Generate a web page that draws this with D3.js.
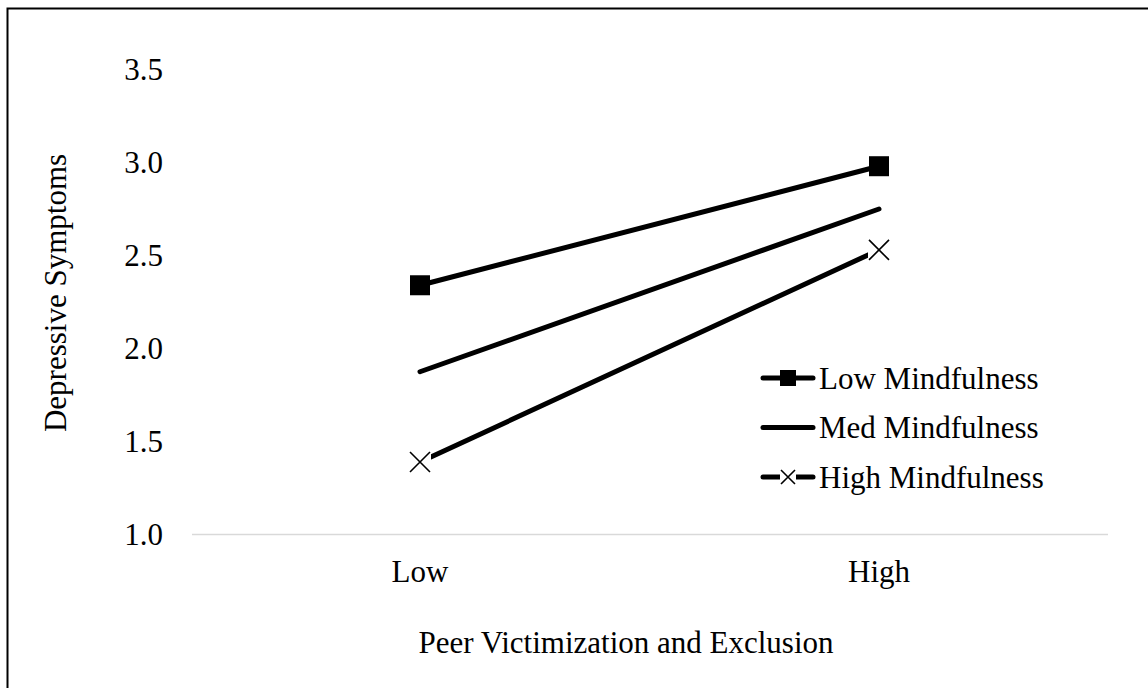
<!DOCTYPE html>
<html>
<head>
<meta charset="utf-8">
<script src="https://cdn.jsdelivr.net/npm/d3@7"></script>
<style>
  body { margin: 0; background: #fff; }
  text { font-family: "Liberation Serif", "Times New Roman", serif; fill: #000; }
</style>
</head>
<body>
<script>
var width = 1148;
var height = 688;

// data
var categories = ["Low", "High"];
var seriesNames = ["Low Mindfulness", "Med Mindfulness", "High Mindfulness"];
var lowMind = [2.34, 2.98];
var medMind = [1.875, 2.75];
var highMind = [1.39, 2.53];
var yTicks = [1.0, 1.5, 2.0, 2.5, 3.0, 3.5];

var series = [
  {name: seriesNames[0], values: lowMind, marker: "square"},
  {name: seriesNames[1], values: medMind, marker: "none"},
  {name: seriesNames[2], values: highMind, marker: "x"}
];

var fontSize = "31px";

var svg = d3.select("body").append("svg")
    .attr("width", width)
    .attr("height", height);

svg.append("rect")
    .attr("width", width).attr("height", height)
    .attr("fill", "#fff");

// outer frame (only left/top visible)
svg.append("rect")
    .attr("x", 7.5).attr("y", 8.5)
    .attr("width", 1200).attr("height", 800)
    .attr("fill", "none")
    .attr("stroke", "#000")
    .attr("stroke-width", 2);

var x = d3.scalePoint()
    .domain(categories)
    .range([420, 879]);

var y = d3.scaleLinear()
    .domain([1.0, 3.5])
    .range([534.5, 69.5]);

// baseline
svg.append("line")
    .attr("x1", 192).attr("x2", 1108)
    .attr("y1", y(1.0)).attr("y2", y(1.0))
    .attr("stroke", "#d9d9d9")
    .attr("stroke-width", 1.5);

// y tick labels
svg.selectAll(".ytick")
    .data(yTicks)
  .enter().append("text")
    .attr("class", "ytick")
    .attr("x", 163)
    .attr("y", function(d) { return y(d); })
    .attr("dy", "0.35em")
    .attr("text-anchor", "end")
    .style("font-size", fontSize)
    .text(function(d) { return d3.format(".1f")(d); });

// x tick labels
svg.selectAll(".xtick")
    .data(categories)
  .enter().append("text")
    .attr("class", "xtick")
    .attr("x", function(d) { return x(d); })
    .attr("y", 582)
    .attr("text-anchor", "middle")
    .style("font-size", fontSize)
    .text(function(d) { return d; });

// axis titles
svg.append("text")
    .attr("x", 626)
    .attr("y", 653)
    .attr("text-anchor", "middle")
    .style("font-size", fontSize)
    .text("Peer Victimization and Exclusion");

svg.append("text")
    .attr("transform", "translate(55,293) rotate(-90)")
    .attr("dy", "0.35em")
    .attr("text-anchor", "middle")
    .style("font-size", fontSize)
    .text("Depressive Symptoms");

var line = d3.line()
    .x(function(d, i) { return x(categories[i]); })
    .y(function(d) { return y(d); });

function drawMarker(g, type, cx, cy, size) {
  if (type == "square") {
    g.append("rect")
      .attr("x", cx - size / 2).attr("y", cy - size / 2)
      .attr("width", size).attr("height", size)
      .attr("fill", "#000");
  } else if (type == "x") {
    var h = size / 2;
    // white box so the line stops at the marker
    g.append("rect")
      .attr("x", cx - h - 1).attr("y", cy - h - 1)
      .attr("width", size + 2).attr("height", size + 2)
      .attr("fill", "#fff");
    g.append("path")
      .attr("d", "M" + (cx - h) + "," + (cy - h) + "L" + (cx + h) + "," + (cy + h) +
                 "M" + (cx - h) + "," + (cy + h) + "L" + (cx + h) + "," + (cy - h))
      .attr("stroke", "#000")
      .attr("stroke-width", 1.6)
      .attr("fill", "none");
  }
}

series.forEach(function(s) {
  var g = svg.append("g");
  g.append("path")
    .datum(s.values)
    .attr("d", line)
    .attr("fill", "none")
    .attr("stroke", "#000")
    .attr("stroke-width", 5)
    .attr("stroke-linecap", "round");
  s.values.forEach(function(v, i) {
    drawMarker(g, s.marker, x(categories[i]), y(v), 20);
  });
});

// legend
var legend = svg.append("g");
var legY = [378, 427.5, 477];
series.forEach(function(s, i) {
  var row = legend.append("g");
  row.append("line")
    .attr("x1", 763).attr("x2", 813)
    .attr("y1", legY[i]).attr("y2", legY[i])
    .attr("stroke", "#000").attr("stroke-width", 5)
    .attr("stroke-linecap", "round");
  drawMarker(row, s.marker, 788, legY[i], s.marker == "x" ? 14 : 16);
  row.append("text")
    .attr("x", 819)
    .attr("y", legY[i])
    .attr("dy", "0.35em")
    .style("font-size", fontSize)
    .text(s.name);
});
</script>
</body>
</html>
